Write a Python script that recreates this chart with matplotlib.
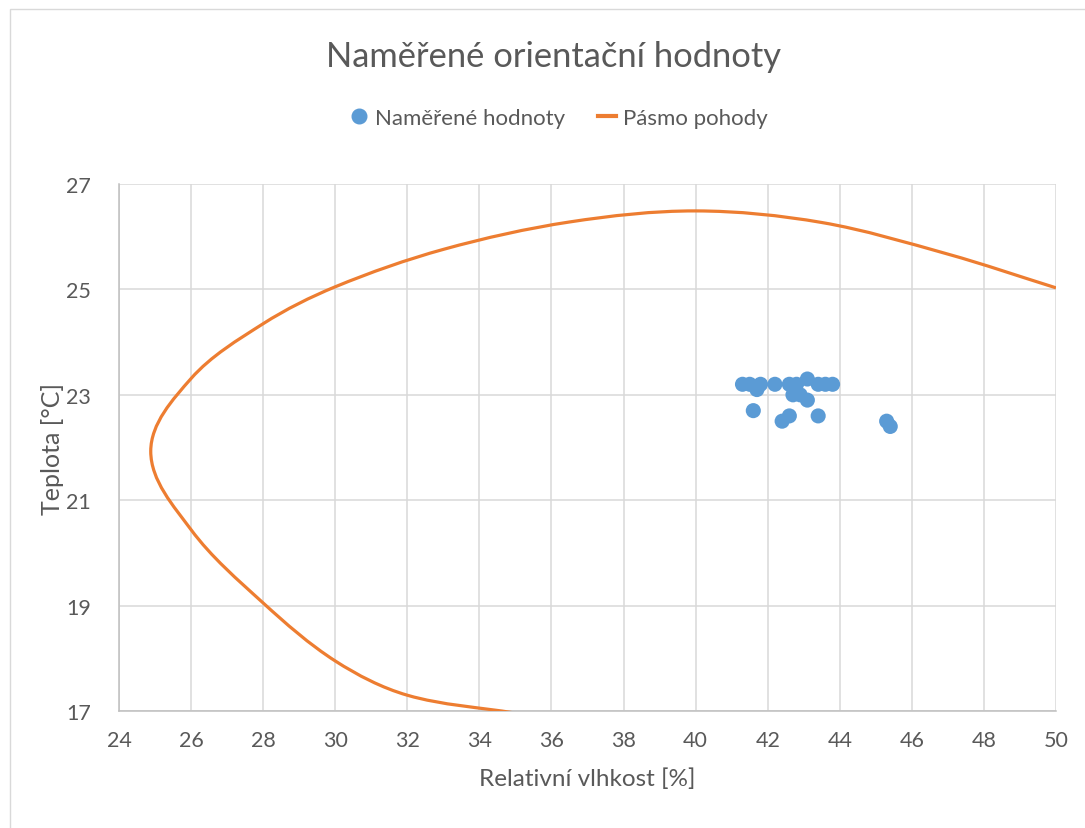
import math
import matplotlib
matplotlib.use("Agg")
import matplotlib.pyplot as plt
from matplotlib.patches import Rectangle, PathPatch
from matplotlib.path import Path
from matplotlib.lines import Line2D

# Naměřené hodnoty (relativní vlhkost [%], teplota [°C])
mereni_x = [41.3, 41.5, 41.8, 41.7, 42.2, 42.6, 42.8, 43.1, 43.4, 43.6, 43.8,
            42.7, 43.1, 42.9, 41.6, 42.4, 42.6, 43.4, 45.3, 45.4]
mereni_y = [23.2, 23.2, 23.2, 23.1, 23.2, 23.2, 23.2, 23.3, 23.2, 23.2, 23.2,
            23.0, 22.9, 23.0, 22.7, 22.5, 22.6, 22.6, 22.5, 22.4]

# Pásmo pohody - hranice
pasmo_x = [35.0, 32.0, 30.0, 28.0, 26.0, 24.88, 26.0, 28.0, 30.0, 33.0, 36.5,
           40.0, 43.5, 47.0, 50.0]
pasmo_y = [16.96, 17.3, 17.95, 19.05, 20.44, 21.93, 23.31, 24.35, 25.05, 25.76,
           26.28, 26.49, 26.27, 25.67, 25.03]

x_ticks = list(range(24, 51, 2))
y_ticks = list(range(17, 28, 2))


def smooth_path(xs, ys, sx=36.0, sy=52.7):
    # vyhlazená čára (Bezierovy úseky, tečny podle sousedních bodů)
    n = len(xs)
    px = [x * sx for x in xs]
    py = [y * sy for y in ys]
    tang = []
    for i in range(n):
        a = max(i - 1, 0)
        b = min(i + 1, n - 1)
        dx, dy = px[b] - px[a], py[b] - py[a]
        d = math.hypot(dx, dy) or 1.0
        tang.append((dx / d, dy / d))
    verts = [(xs[0], ys[0])]
    codes = [Path.MOVETO]
    for i in range(n - 1):
        seg = math.hypot(px[i + 1] - px[i], py[i + 1] - py[i]) / 3
        c1 = (px[i] + tang[i][0] * seg, py[i] + tang[i][1] * seg)
        c2 = (px[i + 1] - tang[i + 1][0] * seg, py[i + 1] - tang[i + 1][1] * seg)
        verts += [(c1[0] / sx, c1[1] / sy), (c2[0] / sx, c2[1] / sy),
                  (xs[i + 1], ys[i + 1])]
        codes += [Path.CURVE4] * 3
    return Path(verts, codes)


plt.rcParams["font.family"] = ["Lato", "DejaVu Sans"]
text_color = "#595959"

fig = plt.figure(figsize=(10.85, 8.29), dpi=100)
ax = fig.add_axes([0.1097, 0.1411, 0.8636, 0.6357])

# rámeček grafu
fig.patches.append(Rectangle((10 / 1085, -0.01), 1.05, 1 - 10 / 829 + 0.01,
                             transform=fig.transFigure, fill=False,
                             edgecolor="#D9D9D9", linewidth=1))

ax.add_patch(PathPatch(smooth_path(pasmo_x, pasmo_y), fill=False,
                       edgecolor="#ED7D31", linewidth=2.3, capstyle="butt",
                       zorder=3))
ax.scatter(mereni_x, mereni_y, s=118, color="#5B9BD5", edgecolors="none", zorder=4)

ax.set_xlim(24, 50)
ax.set_ylim(17, 27)
ax.set_xticks(x_ticks)
ax.set_yticks(y_ticks)
ax.grid(True, color="#D9D9D9", linewidth=1.1)
ax.set_axisbelow(True)
for side in ["top", "right"]:
    ax.spines[side].set_visible(False)
for side in ["left", "bottom"]:
    ax.spines[side].set_color("#BFBFBF")
    ax.spines[side].set_linewidth(1.1)
ax.tick_params(length=0, labelsize=15.5, colors=text_color, pad=14)
ax.tick_params(axis="y", pad=20)

ax.set_xlabel("Relativní vlhkost [%]", fontsize=17.5, color=text_color, labelpad=12)
ax.set_ylabel("Teplota [°C]", fontsize=18, color=text_color, labelpad=2)

fig.text(0.51, 0.931, "Naměřené orientační hodnoty", ha="center", va="center",
         fontsize=24.8, color=text_color)

handles = [
    Line2D([], [], marker="o", linestyle="none", color="#5B9BD5", markersize=10.5),
    Line2D([], [], color="#ED7D31", linewidth=3),
]
fig.legend(handles, ["Naměřené hodnoty", "Pásmo pohody"], loc="center",
           bbox_to_anchor=(0.515, 0.857), ncol=2, frameon=False, fontsize=16,
           labelcolor=text_color, handlelength=0.8, handletextpad=0.3,
           columnspacing=1.5)

fig.savefig("out.png", dpi=100)
